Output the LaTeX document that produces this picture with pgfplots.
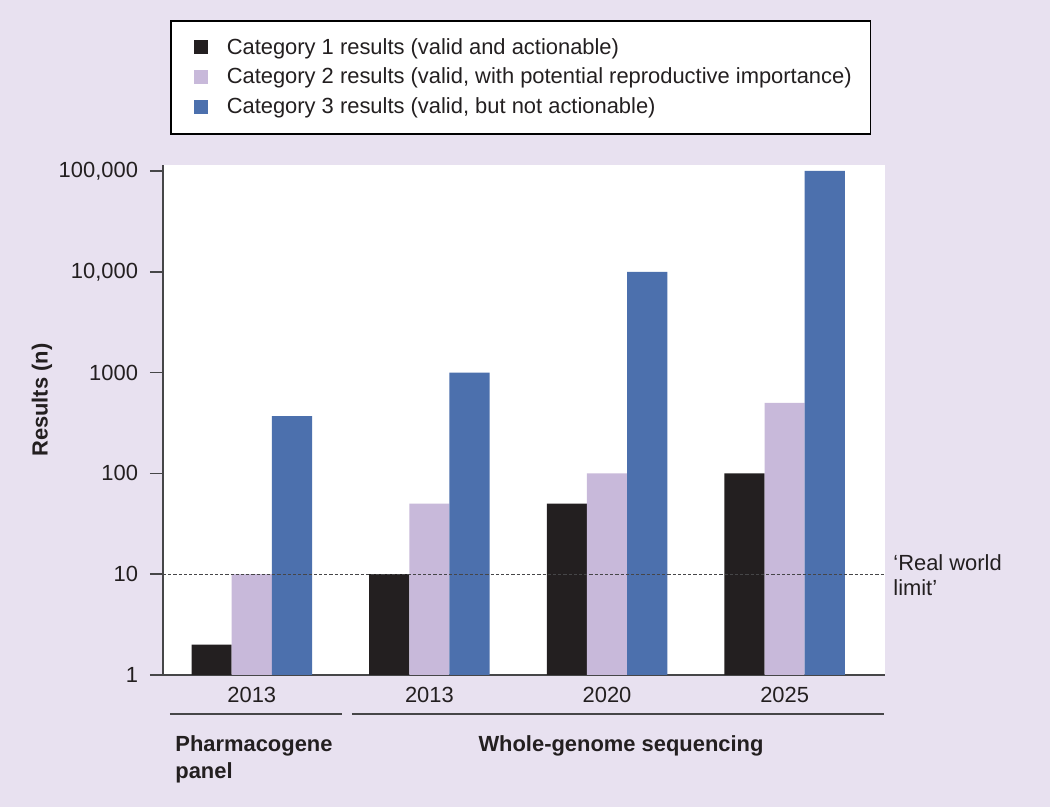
\documentclass[border=0pt]{standalone}
\usepackage{fontspec}
\setmainfont{Liberation Sans}
\usepackage{pgfplots}
\pgfplotsset{compat=1.18}
\definecolor{bgc}{RGB}{232,225,240}
\definecolor{cblack}{RGB}{35,31,32}
\definecolor{cpurple}{RGB}{200,185,218}
\definecolor{cblue}{RGB}{76,112,173}
\definecolor{axc}{RGB}{70,70,72}
\newcommand{\ff}{\fontsize{11}{13}\selectfont}
\begin{document}
\begin{tikzpicture}[font=\ff]
\fill[bgc] (0,0) rectangle (525bp,403.5bp);
\useasboundingbox (0,0) rectangle (525bp,403.5bp);
\begin{axis}[
  at={(81.5bp,66bp)}, anchor=south west,
  scale only axis, width=361bp, height=255bp,
  ymode=log, ymin=1, ymax=114700,
  xmin=-0.5, xmax=3.565,
  axis background/.style={fill=white},
  axis x line*=bottom, axis y line*=left,
  axis line style={-, draw=axc, line width=0.8bp},
  ybar, bar width=0.226,
  xtick={0,1,2,3}, xticklabels={2013,2013,2020,2025},
  xtick style={draw=none},
  xticklabel style={font=\ff, text=cblack, yshift=4bp},
  ytick={1,10,100,1000,10000,100000},
  yticklabels={1,10,100,1000,{10,000},{100,000}},
  yticklabel style={font=\ff, text=cblack, xshift=-2.5bp},
  /pgf/number format/assume math mode=true,
  yminorticks=false,
  tick align=outside, major tick length=6.5bp,
  ytick style={draw=axc, line width=0.8bp},
  every axis y label/.style={at={(axis description cs:-0.1676,0.539)}, rotate=90, anchor=center},
  ylabel={\bfseries Results (n)},
  label style={font=\bfseries\ff, text=cblack},
  clip=false,
  legend cell align=left,
  legend image code/.code={\path (-2bp,0bp); \fill[#1,draw=none] (0bp,0bp) rectangle (7bp,7bp);},
  legend style={at={(axis description cs:0.0097,1.284)}, anchor=north west,
    draw=black, line width=0.75bp, fill=white, font=\ff, text=cblack,
    inner xsep=9.5bp, inner ysep=8.8bp, row sep=5.35bp,
    nodes={inner sep=0pt, anchor=base west},
    /tikz/every odd column/.append style={column sep=9.5bp}},
]
\addplot[fill=cblack, draw=none, bar shift=-0.226] coordinates {(0,2) (1,10) (2,50) (3,100)};
\addlegendentry{Category 1 results (valid and actionable)}
\addplot[fill=cpurple, draw=none, bar shift=0] coordinates {(0,10) (1,50) (2,100) (3,500)};
\addlegendentry{Category 2 results (valid, with potential reproductive importance)}
\addplot[fill=cblue, draw=none, bar shift=0.226] coordinates {(0,370) (1,1000) (2,10000) (3,100000)};
\addlegendentry{Category 3 results (valid, but not actionable)}
\draw[axc, line width=0.6bp, dash pattern=on 1.6bp off 1bp] (axis cs:-0.5,10) -- (axis cs:3.565,10);
\end{axis}
\begin{scope}[shift={(0,403.5bp)}, x=0.5bp, y=-0.5bp]
\draw[axc, line width=0.8bp] (170,714) -- (342,714);
\draw[axc, line width=0.8bp] (352,714) -- (884,714);
\node[anchor=base west, inner sep=0pt, font=\bfseries\ff, text=cblack] at (175,752) {Pharmacogene};
\node[anchor=base west, inner sep=0pt, font=\bfseries\ff, text=cblack] at (175,779) {panel};
\node[anchor=base, inner sep=0pt, font=\bfseries\ff, text=cblack] at (621,752) {Whole-genome sequencing};
\node[anchor=base west, inner sep=0pt, text=cblack] at (893,571) {‘Real world};
\node[anchor=base west, inner sep=0pt, text=cblack] at (893,596) {limit’};
\end{scope}
\end{tikzpicture}
\end{document}
